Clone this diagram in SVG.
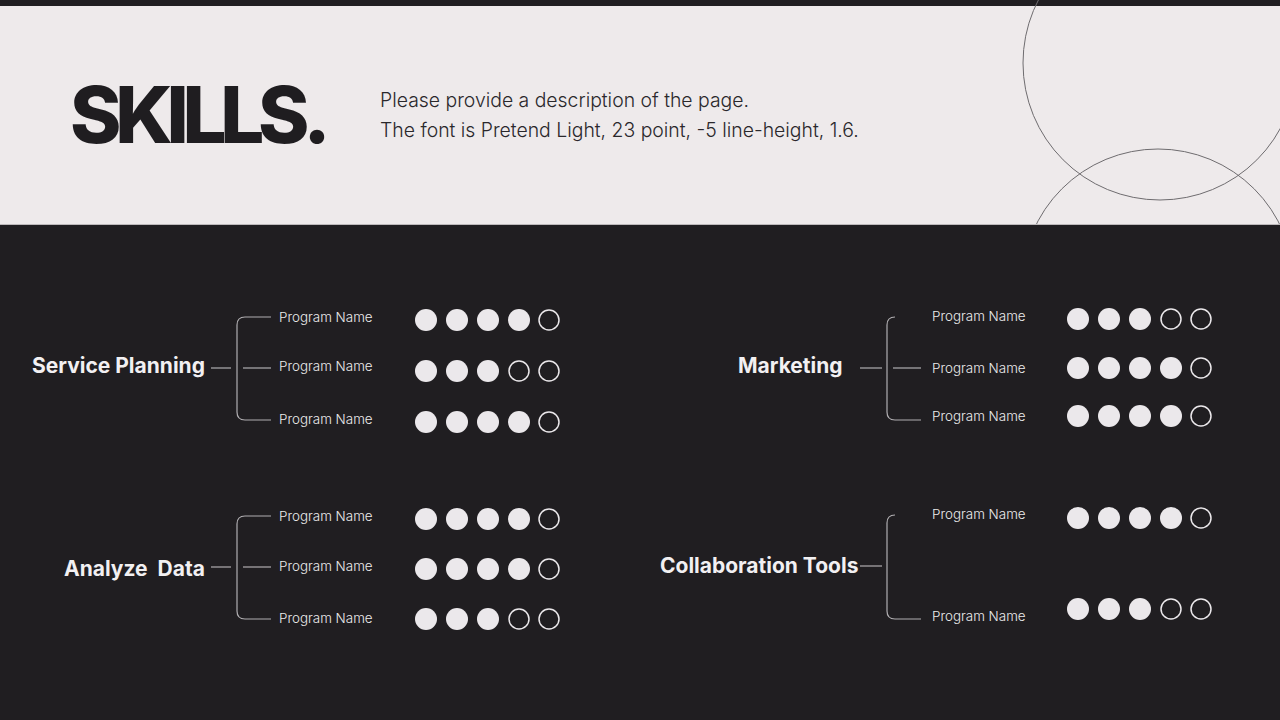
<svg xmlns="http://www.w3.org/2000/svg" width="1280" height="720" viewBox="0 0 1280 720">
<style>
.title{font-family:Inter,"Liberation Sans",sans-serif;font-weight:800;font-size:78px;fill:#1f1d20;letter-spacing:-6.3px}
.desc{font-family:Inter,"Liberation Sans",sans-serif;font-weight:300;font-size:19.4px;fill:#2a282b}
.cat{font-family:Inter,"Liberation Sans",sans-serif;font-weight:700;font-size:21px;fill:#f2f0f2}
.prog{font-family:Inter,"Liberation Sans",sans-serif;font-weight:300;font-size:13.4px;fill:#ecebec}
.ln{stroke:#b0aeb1;stroke-width:1.2;fill:none}
.on{fill:#ebe8eb}
.off{fill:none;stroke:#ebe8eb;stroke-width:1.5}
.deco{fill:none;stroke:#6e6c6f;stroke-width:1}
</style>
<rect width="1280" height="720" fill="#201e21"/>
<rect x="0" y="6" width="1280" height="218" fill="#eeeaeb"/>
<g id="decor">
<circle class="deco" cx="1160" cy="63" r="137"/>
<circle class="deco" cx="1158" cy="285" r="136"/>
<rect x="0" y="224" width="1280" height="1" fill="#bdb9bb"/>
</g>
<rect x="0" y="225" width="1280" height="495" fill="#201e21"/>
<g id="header">
<text class="title" x="70" y="143">SKILLS.</text>
<text class="desc" x="380" y="107">Please provide a description of the page.</text>
<text class="desc" x="380" y="137">The font is Pretend Light, 23 point, -5 line-height, 1.6.</text>
</g>
<g id="connectors">
<line class="ln" x1="211" y1="368" x2="231" y2="368"/>
<path class="ln" d="M271 317 H245 Q237 317 237 325 V412 Q237 420 245 420 H271"/>
<line class="ln" x1="243" y1="368" x2="271" y2="368"/>
<line class="ln" x1="860" y1="368" x2="882" y2="368"/>
<path class="ln" d="M895 317 Q887 317 887 325 V412 Q887 420 895 420 H921"/>
<line class="ln" x1="893" y1="368" x2="921" y2="368"/>
<line class="ln" x1="211" y1="567" x2="231" y2="567"/>
<path class="ln" d="M271 516 H245 Q237 516 237 524 V611 Q237 619 245 619 H271"/>
<line class="ln" x1="243" y1="567" x2="271" y2="567"/>
<line class="ln" x1="860" y1="566" x2="882" y2="566"/>
<path class="ln" d="M895 515 Q887 515 887 523 V611 Q887 619 895 619 H921"/>
</g>
<g id="service-planning">
<text class="cat" x="32" y="373">Service Planning</text>
<text class="prog" x="279" y="322">Program Name</text>
<text class="prog" x="279" y="371">Program Name</text>
<text class="prog" x="279" y="424">Program Name</text>
<circle class="on" cx="426" cy="320" r="11"/><circle class="on" cx="457" cy="320" r="11"/><circle class="on" cx="488" cy="320" r="11"/><circle class="on" cx="519" cy="320" r="11"/><circle class="off" cx="549" cy="320" r="10"/>
<circle class="on" cx="426" cy="371" r="11"/><circle class="on" cx="457" cy="371" r="11"/><circle class="on" cx="488" cy="371" r="11"/><circle class="off" cx="519" cy="371" r="10"/><circle class="off" cx="549" cy="371" r="10"/>
<circle class="on" cx="426" cy="422" r="11"/><circle class="on" cx="457" cy="422" r="11"/><circle class="on" cx="488" cy="422" r="11"/><circle class="on" cx="519" cy="422" r="11"/><circle class="off" cx="549" cy="422" r="10"/>
</g>
<g id="marketing">
<text class="cat" x="738" y="373">Marketing</text>
<text class="prog" x="932" y="321">Program Name</text>
<text class="prog" x="932" y="373">Program Name</text>
<text class="prog" x="932" y="421">Program Name</text>
<circle class="on" cx="1078" cy="319" r="11"/><circle class="on" cx="1109" cy="319" r="11"/><circle class="on" cx="1140" cy="319" r="11"/><circle class="off" cx="1171" cy="319" r="10"/><circle class="off" cx="1201" cy="319" r="10"/>
<circle class="on" cx="1078" cy="368" r="11"/><circle class="on" cx="1109" cy="368" r="11"/><circle class="on" cx="1140" cy="368" r="11"/><circle class="on" cx="1171" cy="368" r="11"/><circle class="off" cx="1201" cy="368" r="10"/>
<circle class="on" cx="1078" cy="416" r="11"/><circle class="on" cx="1109" cy="416" r="11"/><circle class="on" cx="1140" cy="416" r="11"/><circle class="on" cx="1171" cy="416" r="11"/><circle class="off" cx="1201" cy="416" r="10"/>
</g>
<g id="analyze-data">
<text class="cat" x="64" y="576" xml:space="preserve">Analyze  Data</text>
<text class="prog" x="279" y="521">Program Name</text>
<text class="prog" x="279" y="571">Program Name</text>
<text class="prog" x="279" y="623">Program Name</text>
<circle class="on" cx="426" cy="519" r="11"/><circle class="on" cx="457" cy="519" r="11"/><circle class="on" cx="488" cy="519" r="11"/><circle class="on" cx="519" cy="519" r="11"/><circle class="off" cx="549" cy="519" r="10"/>
<circle class="on" cx="426" cy="569" r="11"/><circle class="on" cx="457" cy="569" r="11"/><circle class="on" cx="488" cy="569" r="11"/><circle class="on" cx="519" cy="569" r="11"/><circle class="off" cx="549" cy="569" r="10"/>
<circle class="on" cx="426" cy="619" r="11"/><circle class="on" cx="457" cy="619" r="11"/><circle class="on" cx="488" cy="619" r="11"/><circle class="off" cx="519" cy="619" r="10"/><circle class="off" cx="549" cy="619" r="10"/>
</g>
<g id="collaboration-tools">
<text class="cat" x="660" y="573">Collaboration Tools</text>
<text class="prog" x="932" y="519">Program Name</text>
<text class="prog" x="932" y="621">Program Name</text>
<circle class="on" cx="1078" cy="518" r="11"/><circle class="on" cx="1109" cy="518" r="11"/><circle class="on" cx="1140" cy="518" r="11"/><circle class="on" cx="1171" cy="518" r="11"/><circle class="off" cx="1201" cy="518" r="10"/>
<circle class="on" cx="1078" cy="609" r="11"/><circle class="on" cx="1109" cy="609" r="11"/><circle class="on" cx="1140" cy="609" r="11"/><circle class="off" cx="1171" cy="609" r="10"/><circle class="off" cx="1201" cy="609" r="10"/>
</g>
</svg>
